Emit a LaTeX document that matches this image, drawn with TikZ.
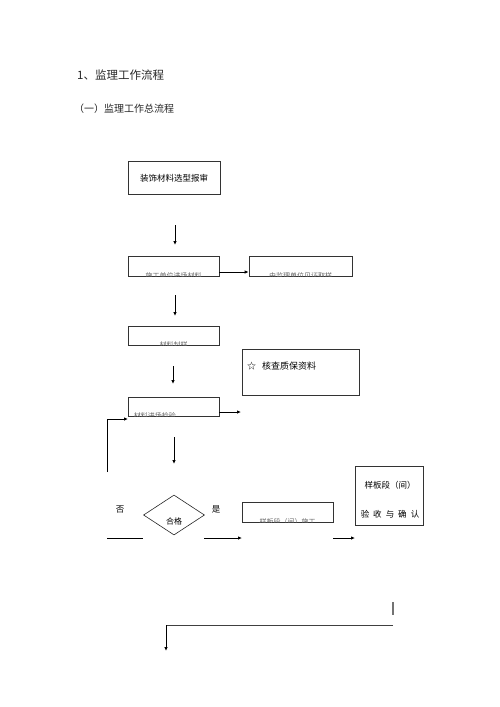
\documentclass[tikz,border=0pt]{standalone}
\usepackage{fontspec}
\setmainfont{Liberation Serif}
\newfontfamily\cjk{Noto Sans CJK SC}
\usetikzlibrary{shapes.geometric,arrows.meta}
\begin{document}
\begin{tikzpicture}[x=1pt,y=-1pt,
  every node/.style={font=\cjk, inner sep=0pt},
  box/.style={draw=black!80, line width=0.6pt},
  cliptext/.style={font=\cjk\fontsize{7}{7}\selectfont, text=black!60},
  arr/.style={line width=0.8pt, -{Latex[length=4pt,width=3.5pt]}},
  ln/.style={line width=0.8pt}]
\useasboundingbox (0,0) rectangle (500,707);
% titles
\node[anchor=west, font=\cjk\fontsize{11.5}{12}\selectfont, text=black!85] (t1) at (77,75) {1、监理工作流程};
\node[anchor=west, font=\cjk\fontsize{10}{10}\selectfont, text=black!85] (t2) at (74,109) {（一）监理工作总流程};
% box 1
\node[box, minimum width=92pt, minimum height=33pt, font=\cjk\fontsize{8.5}{9}\selectfont] (b1) at (174,178) {装饰材料选型报审};
% box 2 (clipped text)
\node[box, minimum width=91pt, minimum height=20pt] (b2) at (173.5,266) {};
\begin{scope}
\clip (b2.south west) rectangle (b2.north east);
\node[cliptext] (b2t) at ([yshift=0.8pt]b2.south) {施工单位进场材料};
\end{scope}
% right box of row 2
\node[box, minimum width=103pt, minimum height=20pt] (r2) at (300.5,266) {};
\begin{scope}
\clip (r2.south west) rectangle (r2.north east);
\node[cliptext] (r2t) at ([yshift=0.8pt]r2.south) {由监理单位见证取样};
\end{scope}
% box 3
\node[box, minimum width=91pt, minimum height=19pt] (b3) at (173.5,335.5) {};
\begin{scope}
\clip (b3.south west) rectangle (b3.north east);
\node[cliptext] (b3t) at ([yshift=0.8pt]b3.south) {材料封样};
\end{scope}
% quality docs box
\node[box, minimum width=117pt, minimum height=46pt] (qd) at (300.5,372) {};
\node[anchor=west, font=\cjk\fontsize{9}{9}\selectfont] (qdt) at (247,366) {☆\hspace{6pt}核查质保资料};
% box 4
\node[box, minimum width=91pt, minimum height=19pt] (b4) at (173.5,406.5) {};
\begin{scope}
\clip (b4.south west) rectangle (b4.north east);
\node[cliptext, anchor=west] (b4t) at ([xshift=6pt,yshift=0.8pt]b4.south west) {材料进场检验};
\end{scope}
% diamond
\node[draw=black!85, line width=0.6pt, diamond, minimum width=61pt, minimum height=40pt, aspect=1.5] (d) at (174,515) {};
\node[font=\cjk\fontsize{8}{8}\selectfont] (dt) at (174,521) {合格};
\node[font=\cjk\fontsize{8.5}{8.5}\selectfont] (no) at (120,510) {否};
\node[font=\cjk\fontsize{8.5}{8.5}\selectfont] (yes) at (216,509) {是};
% box 5
\node[box, minimum width=91pt, minimum height=20pt] (b5) at (287.5,512) {};
\begin{scope}
\clip (b5.south west) rectangle (b5.north east);
\node[cliptext] (b5t) at ([yshift=0.8pt]b5.south) {样板段（间）施工};
\end{scope}
% box 6
\node[box, minimum width=68pt, minimum height=59pt] (b6) at (389,495.5) {};
\node[font=\cjk\fontsize{8.5}{8.5}\selectfont] (b6a) at (390,485) {样板段（间）};
\node[font=\cjk\fontsize{8.5}{8.5}\selectfont] (b6b) at (390,514) {验\hspace{4pt}收\hspace{4pt}与\hspace{4pt}确\hspace{4pt}认};
% coordinates
\coordinate (a1s) at (175,225); \coordinate (a1e) at (175,245);
\coordinate (a2s) at (175,295); \coordinate (a2e) at (175,316);
\coordinate (a3s) at (173,366); \coordinate (a3e) at (173,384);
\coordinate (a4s) at (174,437); \coordinate (a4e) at (174,464);
\coordinate (fb1) at (107,472); \coordinate (fb2) at (107,419); \coordinate (fb3) at (128,419);
\coordinate (b4o) at (241,412);
\coordinate (l1s) at (107,538); \coordinate (l1e) at (143,538);
\coordinate (l2s) at (204,538); \coordinate (l2e) at (242,538);
\coordinate (l3s) at (333,538); \coordinate (l3e) at (355,538);
\coordinate (v1) at (393,602); \coordinate (v2) at (393,615);
\coordinate (h1) at (393,625); \coordinate (h2) at (166,625); \coordinate (h3) at (166,651);
% connectors
\draw[arr] (a1s) -- (a1e);
\draw[arr] (b2.east |- 0,272) -- (r2.west |- 0,272);
\draw[arr] (a2s) -- (a2e);
\draw[arr] (a3s) -- (a3e);
\draw[arr] (b4.east |- b4o) -- (b4o);
\draw[arr] (fb1) -- (fb2) -- (fb3);
\draw[arr] (a4s) -- (a4e);
\draw[ln] (l1s) -- (l1e);
\draw[arr] (l2s) -- (l2e);
\draw[arr] (l3s) -- (l3e);
\draw[line width=1.2pt, black!55] (v1) -- (v2);
\draw[line width=0.7pt, black!75] (h1) -- (h2);
\draw[arr] (h2) -- (h3);
\end{tikzpicture}
\end{document}
